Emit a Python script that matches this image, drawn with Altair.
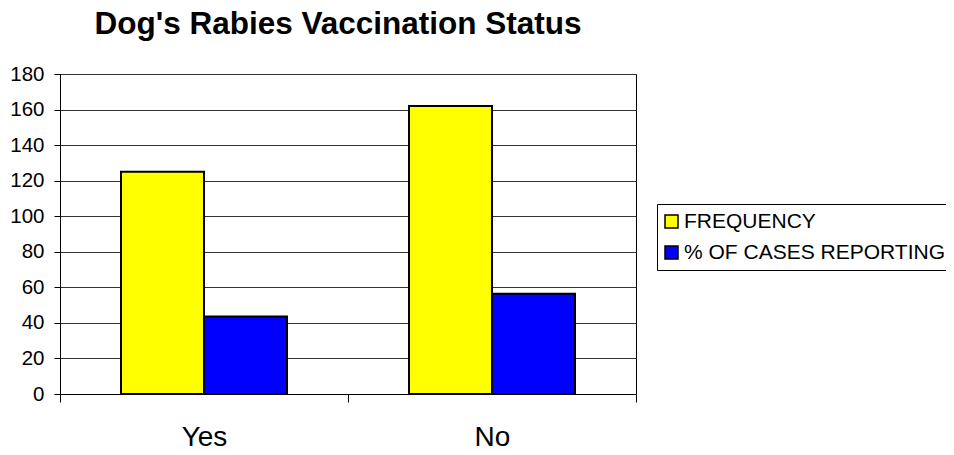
import altair as alt
import pandas as pd

categories = ["Yes", "No"]
series = ["FREQUENCY", "% OF CASES REPORTING"]
frequency = [125, 162]
pct_reporting = [43.6, 56.4]
y_ticks = [0, 20, 40, 60, 80, 100, 120, 140, 160, 180]
colors = ["#FFFF00", "#0000FF"]

rows = []
for i, c in enumerate(categories):
    rows.append({"status": c, "series": series[0], "value": frequency[i]})
    rows.append({"status": c, "series": series[1], "value": pct_reporting[i]})
df = pd.DataFrame(rows)

FONT = "Liberation Sans"

chart = alt.Chart(df).mark_bar(stroke="black", strokeWidth=2).encode(
    x=alt.X("status:N", sort=categories, title=None,
            scale=alt.Scale(paddingInner=0, paddingOuter=0),
            axis=alt.Axis(labelAngle=0, labelFontSize=28, labelFont=FONT,
                          labelColor="black", tickBand="extent", tickSize=8,
                          tickColor="black", domainColor="black",
                          labelPadding=21, grid=False)),
    xOffset=alt.XOffset("series:N", sort=series,
                        scale=alt.Scale(paddingInner=0, paddingOuter=0.735)),
    y=alt.Y("value:Q", title=None,
            scale=alt.Scale(domain=[0, 180], nice=False),
            axis=alt.Axis(values=y_ticks, labelFontSize=20.5, labelFont=FONT,
                          labelColor="black", tickSize=6, tickColor="black",
                          domainColor="black", labelPadding=10,
                          grid=True, gridColor="#333333", gridWidth=1)),
    color=alt.Color("series:N", sort=series,
                    scale=alt.Scale(domain=series, range=colors),
                    legend=alt.Legend(title=None, orient="none",
                                      legendX=597, legendY=130,
                                      symbolType="square", symbolSize=169,
                                      symbolStrokeColor="black",
                                      symbolStrokeWidth=1.5,
                                      symbolOffset=-3,
                                      labelFontSize=21, labelFont=FONT,
                                      labelColor="black", rowPadding=9,
                                      labelOffset=2, padding=7,
                                      labelLimit=400,
                                      strokeColor="black", fillColor="white")),
).properties(
    width=576,
    height=320,
    title=alt.TitleParams("Dog's Rabies Vaccination Status", fontSize=31.5,
                          font=FONT, fontWeight="bold", color="black",
                          anchor="middle", dx=-10, offset=24),
    autosize=alt.AutoSizeParams(type="none"),
    padding={"left": 52, "top": 66, "right": 310, "bottom": 53},
).configure_view(stroke="black", strokeWidth=1)

chart.save("out.html", embed_options={"renderer": "svg", "actions": False})
